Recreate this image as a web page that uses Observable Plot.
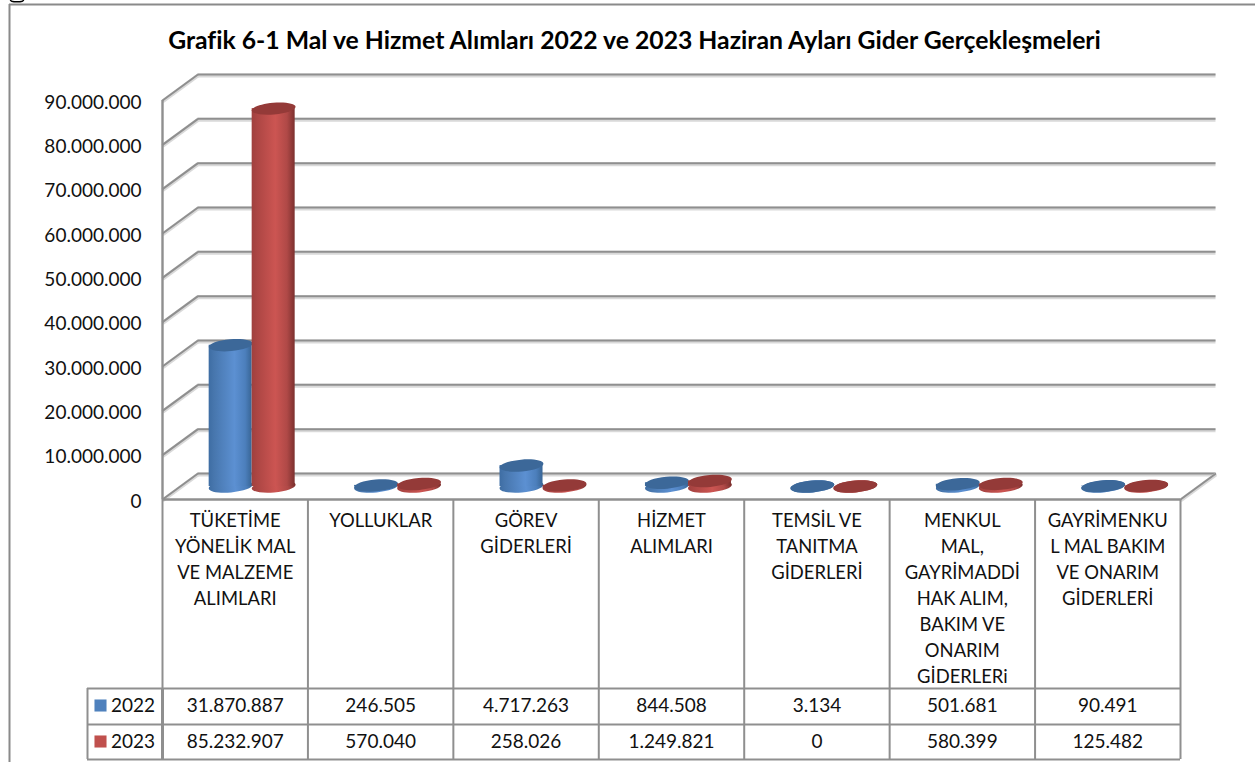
<!DOCTYPE html>
<html lang="tr">
<head>
<meta charset="utf-8">
<script src="https://cdn.jsdelivr.net/npm/d3@7"></script>
<script src="https://cdn.jsdelivr.net/npm/@observablehq/plot@0.6"></script>
<style>
  html, body { margin: 0; padding: 0; background: #fff; overflow: hidden; }
  svg { display: block; }
</style>
</head>
<body>
<div id="chart"></div>
<script>
const title = "Grafik 6-1 Mal ve Hizmet Alımları 2022 ve 2023 Haziran Ayları Gider Gerçekleşmeleri";
const categories = [
  "TÜKETİME\nYÖNELİK MAL\nVE MALZEME\nALIMLARI",
  "YOLLUKLAR",
  "GÖREV\nGİDERLERİ",
  "HİZMET\nALIMLARI",
  "TEMSİL VE\nTANITMA\nGİDERLERİ",
  "MENKUL\nMAL,\nGAYRİMADDİ\nHAK ALIM,\nBAKIM VE\nONARIM\nGİDERLERi",
  "GAYRİMENKU\nL MAL BAKIM\nVE ONARIM\nGİDERLERİ"
];
const years = ["2022", "2023"];
const values2022 = [31870887, 246505, 4717263, 844508, 3134, 501681, 90491];
const values2023 = [85232907, 570040, 258026, 1249821, 0, 580399, 125482];
const yTicks = [0, 10e6, 20e6, 30e6, 40e6, 50e6, 60e6, 70e6, 80e6, 90e6];

// Layout (plot box: x 162..1180, y 100..499)
const W = 1255, H = 762, L = 162, R = 1180, T = 100, B = 499;
const uX = 7 / (R - L), uY = 90e6 / (B - T);     // data units per pixel
const depthX = 35.5 * uX, depthY = 26 * uY;      // 3D wall offset
const halfBar = 21.5 * uX;
const barShift = depthX / 2 - 0.8 * uX;
const tableLeft = (87 - L) * uX;
const rowY = [189, 225, 260].map(p => -p * uY);  // table row rules
const rowMid = [206, 242].map(p => -p * uY);
const fontFamily = "Lato, 'Open Sans', sans-serif";
const fs = 18.4, fsNum = 19;
const lineCol = "#8f8f8f", shadowCol = "#d9d9d9";

const fmt = d3.formatLocale({decimal: ",", thousands: ".", grouping: [3], currency: ["", ""]}).format(",d");

const bars = [];
categories.forEach((c, i) => {
  bars.push({i, year: "2022", v: values2022[i], cx: i + 0.5 + barShift - halfBar});
  bars.push({i, year: "2023", v: values2023[i], cx: i + 0.5 + barShift + halfBar});
});
const isBlue = d => d.year === "2022";

const ellipse = {
  draw(ctx, size) {
    const rx = Math.sqrt(size / Math.PI), ry = rx * 0.27, k = 0.5523;
    ctx.moveTo(rx, 0);
    ctx.bezierCurveTo(rx, k * ry, k * rx, ry, 0, ry);
    ctx.bezierCurveTo(-k * rx, ry, -rx, k * ry, -rx, 0);
    ctx.bezierCurveTo(-rx, -k * ry, -k * rx, -ry, 0, -ry);
    ctx.bezierCurveTo(k * rx, -ry, rx, -k * ry, rx, 0);
    ctx.closePath();
  }
};

function gradients() {
  const defs = d3.create("svg:defs");
  const add = (id, stops) => {
    const g = defs.append("linearGradient").attr("id", id).attr("x1", 0).attr("x2", 1).attr("y1", 0).attr("y2", 0);
    stops.forEach(([o, c]) => g.append("stop").attr("offset", o).attr("stop-color", c));
  };
  add("gBlue", [[0, "#3e6da3"], [0.12, "#4776ad"], [0.6, "#5c90d2"], [0.85, "#4c7fbc"], [1, "#386595"]]);
  add("gRed", [[0, "#a0403e"], [0.14, "#ad4644"], [0.55, "#cc5552"], [0.82, "#b04947"], [1, "#7c302e"]]);
  return defs.node();
}

// Bars drawn category by category: body, bottom cap, top cap
function cylinder(d) {
  const b = isBlue(d);
  const y0 = depthY / 2, y1 = d.v + depthY / 2;
  return [
    Plot.dot([d], {x: "cx", y: () => y0, r: 22, symbol: ellipse, rotate: -5, fill: b ? "url(#gBlue)" : "url(#gRed)"}),
    Plot.rect([d], {x1: e => e.cx - halfBar, x2: e => e.cx + halfBar, y1: () => y0, y2: () => y1, fill: b ? "url(#gBlue)" : "url(#gRed)"}),
    Plot.dot([d], {x: "cx", y: () => y1, r: 22, symbol: ellipse, rotate: -5, fill: b ? "#3c6899" : "#943a38"})
  ];
}

const back = yTicks.map(t => ({t}));

function shadowed(mk, data, opts) {
  return [
    mk(data, {...opts, stroke: shadowCol, strokeWidth: 4, dy: 1}),
    mk(data, {...opts, stroke: lineCol, strokeWidth: 2})
  ];
}

const chart = Plot.plot({
  width: W,
  height: H,
  marginLeft: L,
  marginRight: W - R,
  marginTop: T,
  marginBottom: H - B,
  style: {fontFamily, background: "#fff", overflow: "hidden"},
  x: {type: "linear", domain: [0, 7], axis: null},
  y: {type: "linear", domain: [0, 90e6], axis: null},
  marks: [
    gradients,
    // Sliver of a cut-off glyph at the top edge of the picture
    Plot.dot([0], {x: () => (16.5 - L) * uX, y: () => (B + 0.5) * uY, r: 6.5, symbol: ellipse, fill: "none", stroke: "#000", strokeWidth: 1.6}),
    // Outer frame of the picture
    Plot.ruleY([0], {y: () => (B - 4) * uY, x1: () => (9 - L) * uX, x2: () => (W - L) * uX, stroke: "#8a8a8a", strokeWidth: 2}),
    Plot.ruleX([0], {x: () => (9 - L) * uX, y1: () => (B - 4) * uY, y2: () => (B - H) * uY, stroke: "#8a8a8a", strokeWidth: 2}),
    // Back wall gridlines and wall depth diagonals
    ...shadowed(Plot.ruleY, back, {y: d => d.t + depthY, x1: () => depthX, x2: () => 7 + depthX}),
    ...shadowed(Plot.link, back, {x1: () => 0, y1: "t", x2: () => depthX, y2: d => d.t + depthY}),
    ...shadowed(Plot.link, [{t: 0}], {x1: () => 7, y1: "t", x2: () => 7 + depthX, y2: d => d.t + depthY}),
    // Front axis line
    Plot.ruleX([0], {y1: 0, y2: 90e6, stroke: lineCol, strokeWidth: 2.4}),
    // Cylinders
    ...bars.flatMap(cylinder),
    // Table grid
    Plot.ruleY([0], {x1: () => 0, x2: () => 7, stroke: lineCol, strokeWidth: 2.6}),
    Plot.ruleX(d3.range(8), {y1: () => 0, y2: () => rowY[2], stroke: lineCol, strokeWidth: 2}),
    Plot.ruleX([tableLeft], {y1: () => rowY[0], y2: () => rowY[2], stroke: lineCol, strokeWidth: 2}),
    Plot.ruleX([0], {y1: () => rowY[0], y2: () => rowY[2], stroke: lineCol, strokeWidth: 3}),
    Plot.ruleY(rowY, {x1: () => tableLeft, x2: () => 7, stroke: lineCol, strokeWidth: 2}),
    // Y axis
    Plot.axisY({ticks: yTicks, tickFormat: fmt, tickSize: 0, tickPadding: 21, fontSize: fsNum, anchor: "left", label: null, stroke: "none", fill: "#111", dy: 2}),
    // Category cells
    Plot.text(categories, {x: (d, i) => i + 0.5, y: () => -9 * uY, text: d => d, lineAnchor: "top", lineHeight: 26 / fs, fontSize: fs, fill: "#111"}),
    // Value cells
    Plot.text(values2022, {x: (d, i) => i + 0.5, y: () => rowMid[0], text: d => fmt(d), fontSize: fsNum, fill: "#111"}),
    Plot.text(values2023, {x: (d, i) => i + 0.5, y: () => rowMid[1], text: d => fmt(d), fontSize: fsNum, fill: "#111"}),
    // Legend cells
    Plot.dot(years, {x: () => (100 - L) * uX, y: (d, i) => rowMid[i], symbol: "square", r: 6.8, fill: (d, i) => ["#4f81bd", "#c0504d"][i]}),
    Plot.text(years, {x: () => (110.5 - L) * uX, y: (d, i) => rowMid[i], text: d => d, textAnchor: "start", fontSize: fsNum, fill: "#111"}),
    // Title
    Plot.text([title], {frameAnchor: "top", lineAnchor: "middle", dx: -37, dy: -59, text: d => d, fontSize: 24.75, fontWeight: 700, fill: "#000"})
  ]
});
document.getElementById("chart").append(chart);
</script>
</body>
</html>
